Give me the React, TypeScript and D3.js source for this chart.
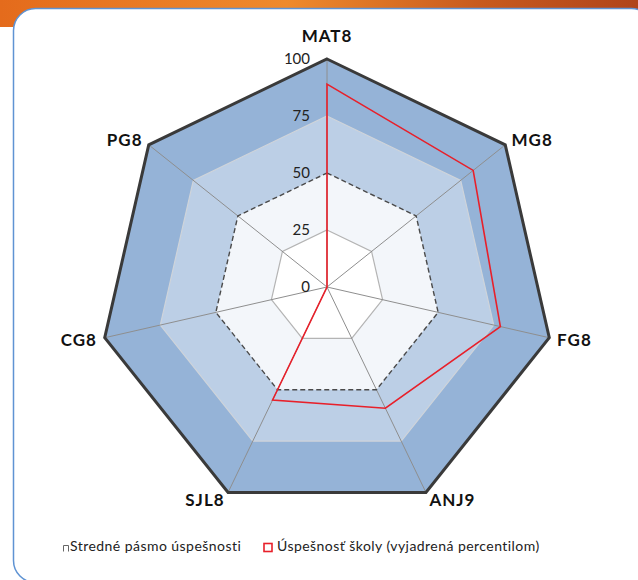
import React, { useEffect, useRef } from 'react';
import * as d3 from 'd3';

// categories going clockwise from the top
const categories = ['MAT8', 'MG8', 'FG8', 'ANJ9', 'SJL8', 'CG8', 'PG8'];
// school result, expressed as percentile
const schoolPercentile = [89, 82, 78, 59, 55, 0, 0];
// filled levels of the background bands (outer to inner)
const bandLevels = [100, 75, 50, 25];
// axis ticks
const ticks = [0, 25, 50, 75, 100];
const legendLabels = ['Stredné pásmo úspešnosti', 'Úspešnosť školy (vyjadrená percentilom)'];

const bandColors = ['#95b3d7', '#bccfe6', '#f3f6fa', '#ffffff'];

const W = 638;
const H = 580;
const cx = 327;
const cy = 287;
const R = 228;

const App = () => {
  const svgRef = useRef<SVGSVGElement>(null);

  useEffect(() => {
    const svg = d3.select(svgRef.current);
    svg.selectAll('*').remove();

    const rScale = d3.scaleLinear().domain([0, 100]).range([0, R]);
    const angle = (i: number) => (i * 2 * Math.PI) / categories.length;

    const radial = d3
      .lineRadial<number>()
      .angle((_, i) => angle(i))
      .radius((d) => rScale(d))
      .curve(d3.curveLinearClosed);

    // background + card
    const defs = svg.append('defs');
    const grad = defs.append('linearGradient').attr('id', 'orange').attr('x1', 0).attr('x2', 1);
    grad.append('stop').attr('offset', '0%').attr('stop-color', '#e46b1c');
    grad.append('stop').attr('offset', '45%').attr('stop-color', '#ef8a2c');
    grad.append('stop').attr('offset', '75%').attr('stop-color', '#c85a1e');
    grad.append('stop').attr('offset', '100%').attr('stop-color', '#b0441a');

    svg.append('rect').attr('width', W).attr('height', 27).attr('fill', 'url(#orange)');
    svg
      .append('rect')
      .attr('x', 13.5)
      .attr('y', 8.5)
      .attr('width', 640)
      .attr('height', 574)
      .attr('rx', 22)
      .attr('fill', '#fff')
      .attr('stroke', '#5f93d3')
      .attr('stroke-width', 1.5);

    const g = svg.append('g').attr('transform', `translate(${cx},${cy})`);

    // stacked bands
    g.selectAll('.band')
      .data(bandLevels)
      .join('path')
      .attr('class', 'band')
      .attr('d', (lvl) => radial(categories.map(() => lvl)))
      .attr('fill', (_, i) => bandColors[i]);

    // gridlines at 25 and 75
    g.selectAll('.grid')
      .data([25, 75])
      .join('path')
      .attr('class', 'grid')
      .attr('d', (lvl) => radial(categories.map(() => lvl)))
      .attr('fill', 'none')
      .attr('stroke', (d) => (d === 25 ? '#b4b4b4' : '#cfd4da'))
      .attr('stroke-width', 1.2);

    // spokes
    g.selectAll('.spoke')
      .data(categories)
      .join('line')
      .attr('class', 'spoke')
      .attr('x1', 0)
      .attr('y1', 0)
      .attr('x2', (_, i) => rScale(100) * Math.sin(angle(i)))
      .attr('y2', (_, i) => -rScale(100) * Math.cos(angle(i)))
      .attr('stroke', '#8e8e8e')
      .attr('stroke-width', 1);

    // median dashed line
    g.append('path')
      .attr('d', radial(categories.map(() => 50)))
      .attr('fill', 'none')
      .attr('stroke', '#4a4a4a')
      .attr('stroke-width', 1.4)
      .attr('stroke-dasharray', '5,3');

    // outer border
    g.append('path')
      .attr('d', radial(categories.map(() => 100)))
      .attr('fill', 'none')
      .attr('stroke', '#3a3a3a')
      .attr('stroke-width', 3)
      .attr('stroke-linejoin', 'miter');

    // school line
    g.append('path')
      .attr('d', radial(schoolPercentile))
      .attr('fill', 'none')
      .attr('stroke', '#e8202a')
      .attr('stroke-width', 1.6)
      .attr('stroke-linejoin', 'miter');

    // tick labels
    g.selectAll('.tick')
      .data(ticks)
      .join('text')
      .attr('class', 'tick')
      .attr('x', -17)
      .attr('y', (d) => -rScale(d) + 5)
      .attr('text-anchor', 'end')
      .attr('font-family', 'Lato, sans-serif')
      .attr('font-size', 15)
      .attr('fill', '#222')
      .text((d) => d);

    // category labels
    g.selectAll('.cat')
      .data(categories)
      .join('text')
      .attr('class', 'cat')
      .attr('x', (_, i) => {
        const s = Math.sin(angle(i));
        return rScale(100) * s + s * 8;
      })
      .attr('y', (_, i) => {
        const c = Math.cos(angle(i));
        const vy = -rScale(100) * c;
        return i === 0 ? vy - 17 : vy + 6 - c * 8;
      })
      .attr('text-anchor', (_, i) => {
        const s = Math.sin(angle(i));
        return s > 0.1 ? 'start' : s < -0.1 ? 'end' : 'middle';
      })
      .attr('font-family', 'Lato, sans-serif')
      .attr('font-weight', 'bold')
      .attr('font-size', 17)
      .attr('letter-spacing', 1)
      .attr('fill', '#111')
      .text((d) => d);

    // legend
    const leg = svg
      .append('g')
      .attr('font-family', 'Lato, sans-serif')
      .attr('font-size', 14)
      .attr('letter-spacing', 0.45)
      .attr('fill', '#222');
    leg
      .append('path')
      .attr('d', 'M63.5,551.5 V545.5 H68.5 V551.5')
      .attr('fill', 'none')
      .attr('stroke', '#666')
      .attr('stroke-width', 1);
    leg.append('text').attr('x', 70).attr('y', 551).text(legendLabels[0]);
    leg
      .append('rect')
      .attr('x', 264)
      .attr('y', 543.5)
      .attr('width', 8)
      .attr('height', 8)
      .attr('fill', '#fff')
      .attr('stroke', '#e8202a')
      .attr('stroke-width', 1.6);
    leg.append('text').attr('x', 277).attr('y', 551).text(legendLabels[1]);
  }, []);

  return (
    <svg
      ref={svgRef}
      width={W}
      height={H}
      style={{ position: 'absolute', left: 0, top: 0, display: 'block' }}
    />
  );
};

export default App;
